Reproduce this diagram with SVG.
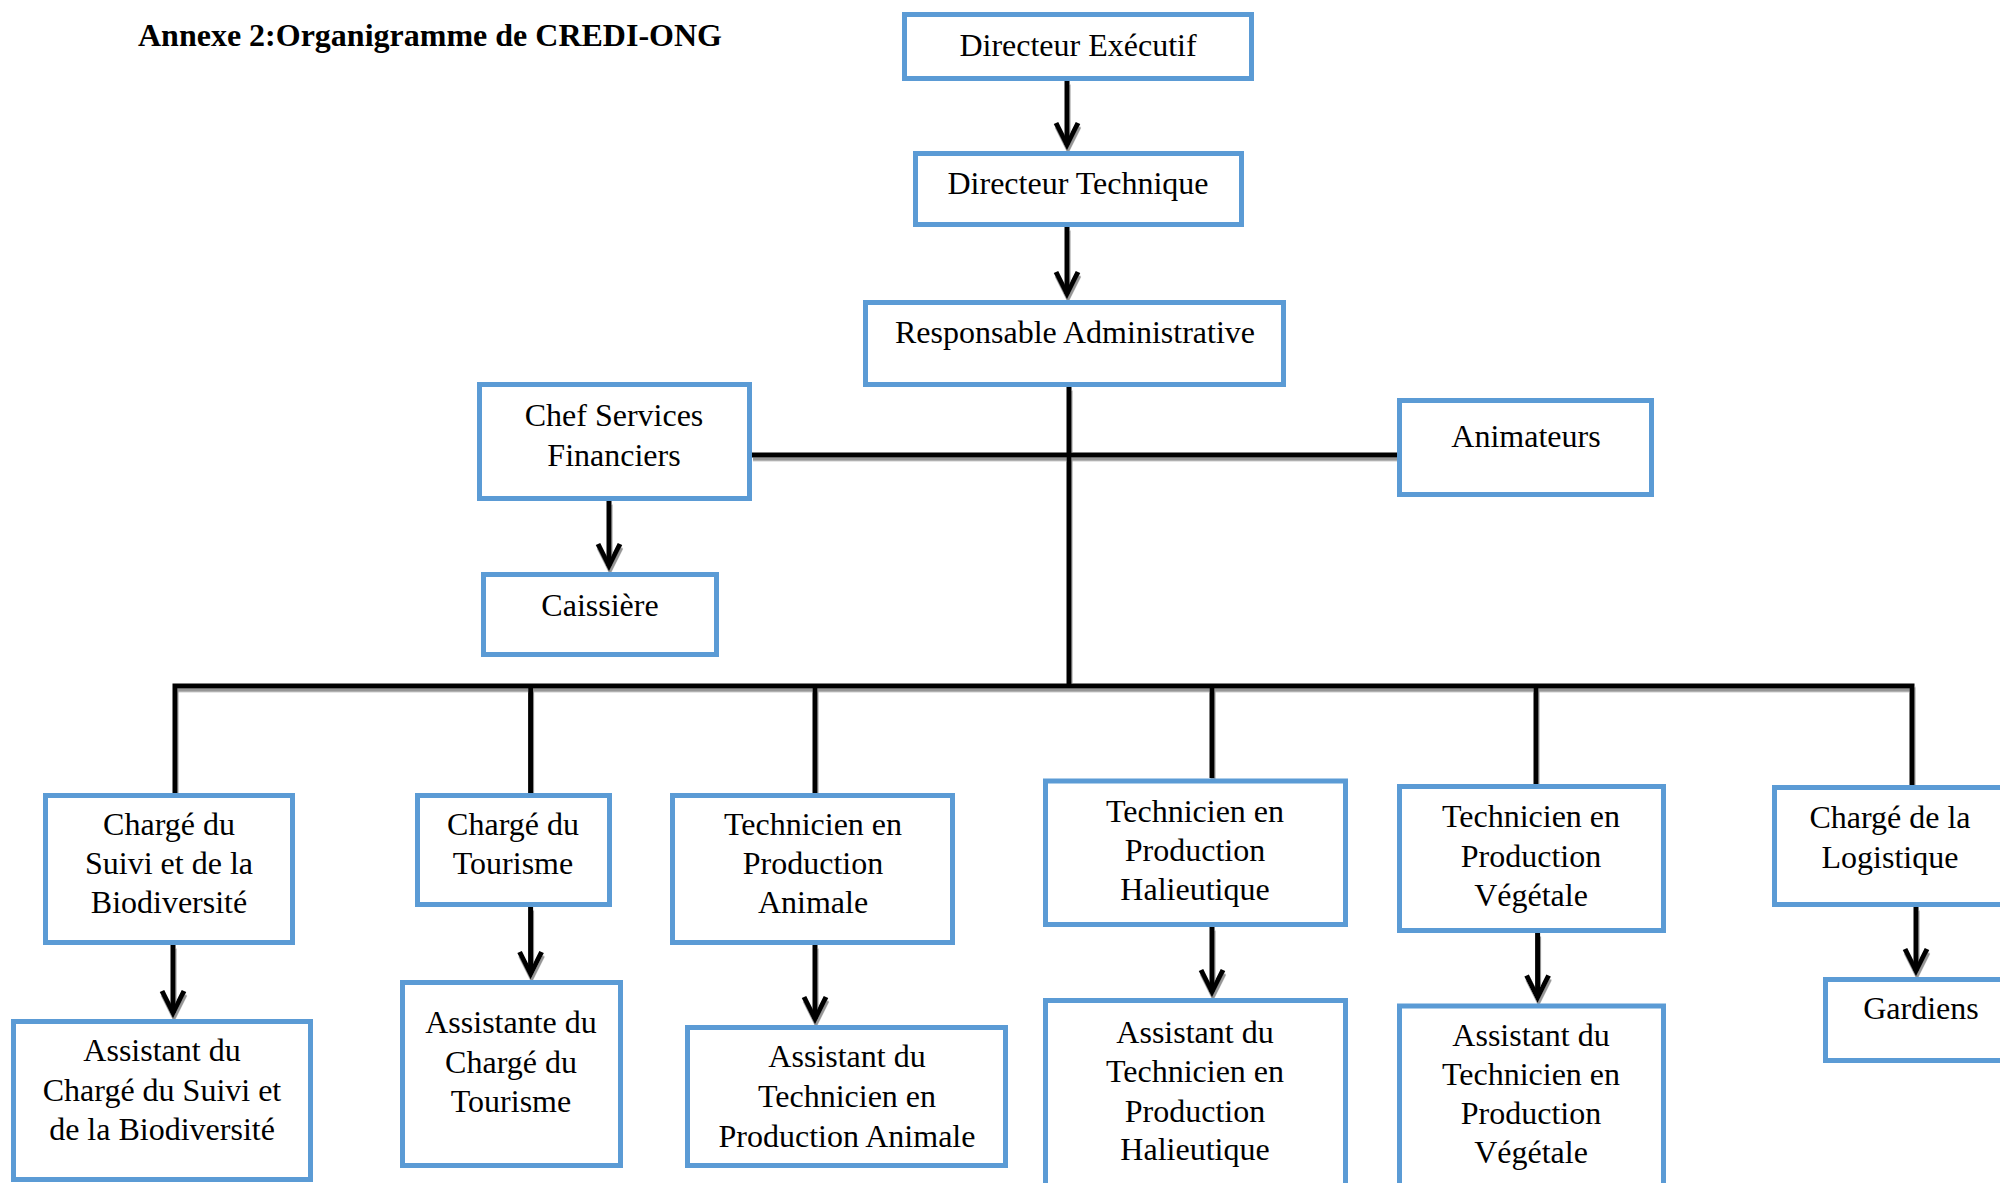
<svg xmlns="http://www.w3.org/2000/svg" width="2000" height="1183" viewBox="0 0 2000 1183">
<style>
.box{fill:#fff;stroke:#5B9BD5;stroke-width:5}
.t{font-family:"Liberation Serif","Times New Roman",serif;font-size:32px;fill:#000;text-anchor:middle}
.title{font-family:"Liberation Serif","Times New Roman",serif;font-size:32px;font-weight:bold;fill:#000}
.c{stroke:#000;stroke-width:5;fill:none;stroke-linejoin:miter}
</style>
<defs>
<marker id="arr" markerUnits="userSpaceOnUse" viewBox="-30 -16 40 32" refX="0" refY="0" markerWidth="40" markerHeight="32" orient="auto">
<path d="M -22 -11 L 0 0 L -22 11" fill="none" stroke="#000" stroke-width="5" stroke-linejoin="miter" stroke-miterlimit="10"/>
</marker>
<filter id="sh" x="-10%" y="-10%" width="120%" height="120%">
<feDropShadow dx="1" dy="3.5" stdDeviation="0.6" flood-color="#8a8a8a" flood-opacity="0.9"/>
</filter>
</defs>
<rect width="2000" height="1183" fill="#fff"/>
<text class="title" x="138" y="46">Annexe 2:Organigramme de CREDI-ONG</text>

<g id="connectors" filter="url(#sh)">
<line class="c" x1="1067" y1="81" x2="1067" y2="145" marker-end="url(#arr)"/>
<line class="c" x1="1067" y1="227" x2="1067" y2="294" marker-end="url(#arr)"/>
<line class="c" x1="1069" y1="387" x2="1069" y2="688"/>
<line class="c" x1="752" y1="455" x2="1397" y2="455"/>
<line class="c" x1="609" y1="501" x2="609" y2="566" marker-end="url(#arr)"/>
<path class="c" d="M175 793 V686 H1912 V785"/>
<line class="c" x1="530.6" y1="686" x2="530.6" y2="793"/>
<line class="c" x1="815" y1="686" x2="815" y2="793"/>
<line class="c" x1="1212" y1="686" x2="1212" y2="778"/>
<line class="c" x1="1536" y1="686" x2="1536" y2="784"/>
<line class="c" x1="173" y1="945" x2="173" y2="1013" marker-end="url(#arr)"/>
<line class="c" x1="530.6" y1="907" x2="530.6" y2="974" marker-end="url(#arr)"/>
<line class="c" x1="815" y1="945" x2="815" y2="1019" marker-end="url(#arr)"/>
<line class="c" x1="1212" y1="927" x2="1212" y2="992" marker-end="url(#arr)"/>
<line class="c" x1="1537.6" y1="933" x2="1537.6" y2="997.5" marker-end="url(#arr)"/>
<line class="c" x1="1916" y1="907" x2="1916" y2="971" marker-end="url(#arr)"/>
</g>

<g id="n-directeur-executif"><rect class="box" x="904.5" y="14.5" width="347" height="64"/><text class="t" x="1078" y="56">Directeur Exécutif</text></g>
<g id="n-directeur-technique"><rect class="box" x="915.5" y="153.5" width="326" height="71"/><text class="t" x="1078" y="194">Directeur Technique</text></g>
<g id="n-responsable-admin"><rect class="box" x="865.5" y="302.5" width="418" height="82"/><text class="t" x="1075" y="343">Responsable Administrative</text></g>
<g id="n-chef-services"><rect class="box" x="479.5" y="384.5" width="270" height="114"/><text class="t" x="614"><tspan x="614" y="426">Chef Services</tspan><tspan x="614" y="466">Financiers</tspan></text></g>
<g id="n-caissiere"><rect class="box" x="483.5" y="574.5" width="233" height="80"/><text class="t" x="600" y="616">Caissière</text></g>
<g id="n-animateurs"><rect class="box" x="1399.5" y="400.5" width="252" height="94"/><text class="t" x="1526" y="447">Animateurs</text></g>

<g id="n-suivi"><rect class="box" x="45.5" y="795.5" width="247" height="147"/><text class="t"><tspan x="169" y="835">Chargé du</tspan><tspan x="169" y="874">Suivi et de la</tspan><tspan x="169" y="913">Biodiversité</tspan></text></g>
<g id="n-tourisme"><rect class="box" x="417.5" y="795.5" width="192" height="109"/><text class="t"><tspan x="513" y="835">Chargé du</tspan><tspan x="513" y="874">Tourisme</tspan></text></g>
<g id="n-animale"><rect class="box" x="672.5" y="795.5" width="280" height="147"/><text class="t"><tspan x="813" y="835">Technicien en</tspan><tspan x="813" y="874">Production</tspan><tspan x="813" y="913">Animale</tspan></text></g>
<g id="n-halieutique"><rect class="box" x="1045.5" y="781" width="300" height="143.5"/><text class="t"><tspan x="1195" y="822">Technicien en</tspan><tspan x="1195" y="861">Production</tspan><tspan x="1195" y="900">Halieutique</tspan></text></g>
<g id="n-vegetale"><rect class="box" x="1399.5" y="786.5" width="264" height="144"/><text class="t"><tspan x="1531" y="827">Technicien en</tspan><tspan x="1531" y="867">Production</tspan><tspan x="1531" y="906">Végétale</tspan></text></g>
<g id="n-logistique"><rect class="box" x="1774.5" y="787.5" width="250" height="117"/><text class="t"><tspan x="1890" y="828">Chargé de la</tspan><tspan x="1890" y="868">Logistique</tspan></text></g>

<g id="n-asst-suivi"><rect class="box" x="13.5" y="1021.5" width="297" height="158"/><text class="t"><tspan x="162" y="1061">Assistant du</tspan><tspan x="162" y="1101">Chargé du Suivi et</tspan><tspan x="162" y="1140">de la Biodiversité</tspan></text></g>
<g id="n-asst-tourisme"><rect class="box" x="402.5" y="982.5" width="218" height="183"/><text class="t"><tspan x="511" y="1033">Assistante du</tspan><tspan x="511" y="1073">Chargé du</tspan><tspan x="511" y="1112">Tourisme</tspan></text></g>
<g id="n-asst-animale"><rect class="box" x="687.5" y="1027.5" width="318" height="138"/><text class="t"><tspan x="847" y="1067">Assistant du</tspan><tspan x="847" y="1107">Technicien en</tspan><tspan x="847" y="1147">Production Animale</tspan></text></g>
<g id="n-asst-halieutique"><rect class="box" x="1045.5" y="1000.5" width="300" height="200"/><text class="t"><tspan x="1195" y="1043">Assistant du</tspan><tspan x="1195" y="1082">Technicien en</tspan><tspan x="1195" y="1122">Production</tspan><tspan x="1195" y="1160">Halieutique</tspan></text></g>
<g id="n-asst-vegetale"><rect class="box" x="1399.5" y="1006" width="264" height="200"/><text class="t"><tspan x="1531" y="1046">Assistant du</tspan><tspan x="1531" y="1085">Technicien en</tspan><tspan x="1531" y="1124">Production</tspan><tspan x="1531" y="1163">Végétale</tspan></text></g>
<g id="n-gardiens"><rect class="box" x="1825.5" y="979.5" width="200" height="81"/><text class="t" x="1921" y="1019">Gardiens</text></g>
</svg>
